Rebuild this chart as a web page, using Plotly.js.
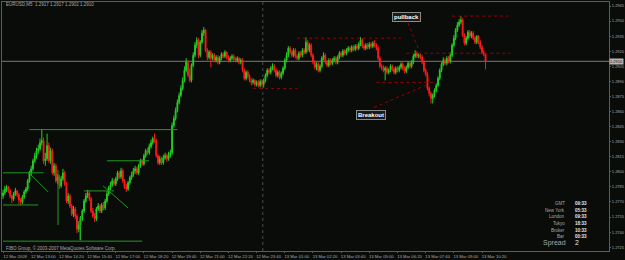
<!DOCTYPE html>
<html><head><meta charset="utf-8">
<script src="https://cdn.plot.ly/plotly-3.0.1.min.js"></script>
<style>html,body{margin:0;padding:0;background:#0a0c0a;}#chart{width:625px;height:260px;}</style>
</head><body><div id="chart"></div>
<script>
// ---- data (EURUSD M5, 12-13 Mar 2009) ----
const symbolTitle = "EURUSD,M5  1.2917 1.2917 1.2902 1.2910";
const copyrightText = "FIBO Group, © 2003-2007 MetaQuotes Software Corp.";
const open = [
1.2776,1.2779,1.2783,1.2785,1.2781,1.2776,1.2773,1.2778,1.2781,1.2777,
1.2772,1.2770,1.2775,1.2780,1.2783,1.2791,1.2799,1.2803,1.2811,1.2816,
1.2821,1.2823,1.2829,1.2831,1.2811,1.2813,1.2826,1.2811,1.2821,1.2799,
1.2806,1.2791,1.2795,1.2786,1.2793,1.2799,1.2788,1.2771,1.2776,1.2766,
1.2758,1.2763,1.2756,1.2743,1.2747,1.2753,1.2761,1.2771,1.2776,1.2779,
1.2773,1.2761,1.2756,1.2753,1.2763,1.2766,1.2761,1.2767,1.2764,1.2771,
1.2778,1.2784,1.2787,1.2791,1.2788,1.2793,1.2799,1.2795,1.2801,1.2791,
1.2785,1.2783,1.2789,1.2794,1.2797,1.2801,1.2803,1.2799,1.2806,1.2811,
1.2808,1.2816,1.2821,1.2819,1.2825,1.2829,1.2833,1.2831,1.2816,1.2809,
1.2813,1.2809,1.2814,1.2816,1.2813,1.2817,1.2819,1.2846,1.2853,1.2861,
1.2869,1.2876,1.2883,1.2891,1.2901,1.2909,1.2896,1.2891,1.2906,1.2916,
1.2926,1.2931,1.2916,1.2929,1.2938,1.2941,1.2921,1.2914,1.2919,1.2913,
1.2916,1.2911,1.2914,1.2909,1.2913,1.2917,1.2915,1.2919,1.2914,1.2911,
1.2913,1.2915,1.2912,1.2911,1.2913,1.2909,1.2911,1.2901,1.2893,1.2899,
1.2895,1.2891,1.2889,1.2891,1.2887,1.2889,1.2886,1.2890,1.2887,1.2891,
1.2896,1.2901,1.2899,1.2903,1.2905,1.2901,1.2896,1.2899,1.2894,1.2898,
1.2903,1.2911,1.2916,1.2923,1.2919,1.2916,1.2921,1.2915,1.2913,1.2918,
1.2916,1.2921,1.2919,1.2929,1.2921,1.2926,1.2916,1.2909,1.2904,1.2907,
1.2901,1.2905,1.2913,1.2916,1.2909,1.2906,1.2911,1.2908,1.2911,1.2913,
1.2909,1.2914,1.2918,1.2916,1.2920,1.2918,1.2921,1.2923,1.2921,1.2924,
1.2922,1.2925,1.2923,1.2927,1.2931,1.2925,1.2923,1.2926,1.2924,1.2927,
1.2925,1.2928,1.2926,1.2923,1.2913,1.2905,1.2904,1.2901,1.2903,1.2899,
1.2901,1.2905,1.2902,1.2899,1.2903,1.2901,1.2904,1.2907,1.2903,1.2900,
1.2904,1.2908,1.2905,1.2909,1.2915,1.2918,1.2915,1.2916,1.2914,1.2909,
1.2901,1.2897,1.2883,1.2878,1.2873,1.2876,1.2881,1.2886,1.2893,1.2901,
1.2907,1.2911,1.2908,1.2913,1.2910,1.2916,1.2926,1.2933,1.2941,1.2946,
1.2949,1.2951,1.2936,1.2928,1.2933,1.2939,1.2935,1.2938,1.2933,1.2929,
1.2935,1.2929,1.2924,1.2919,1.2917];
const high = [
1.2782,1.2786,1.2787,1.2786,1.2783,1.2777,1.2780,1.2784,1.2782,1.2779,
1.2774,1.2777,1.2782,1.2785,1.2793,1.2801,1.2806,1.2813,1.2819,1.2824,
1.2827,1.2833,1.2842,1.2834,1.2819,1.2838,1.2829,1.2824,1.2823,1.2809,
1.2808,1.2798,1.2797,1.2796,1.2803,1.2801,1.2790,1.2779,1.2778,1.2768,
1.2766,1.2765,1.2758,1.2751,1.2756,1.2763,1.2773,1.2779,1.2782,1.2781,
1.2775,1.2764,1.2759,1.2765,1.2769,1.2768,1.2769,1.2770,1.2773,1.2781,
1.2786,1.2790,1.2794,1.2793,1.2795,1.2801,1.2801,1.2804,1.2803,1.2793,
1.2788,1.2791,1.2796,1.2800,1.2804,1.2806,1.2805,1.2808,1.2813,1.2813,
1.2818,1.2823,1.2824,1.2828,1.2832,1.2835,1.2838,1.2833,1.2818,1.2816,
1.2815,1.2817,1.2819,1.2818,1.2820,1.2822,1.2849,1.2856,1.2864,1.2872,
1.2879,1.2886,1.2894,1.2905,1.2913,1.2911,1.2903,1.2908,1.2919,1.2929,
1.2934,1.2933,1.2931,1.2941,1.2944,1.2942,1.2923,1.2921,1.2921,1.2918,
1.2918,1.2916,1.2916,1.2915,1.2919,1.2919,1.2921,1.2920,1.2916,1.2915,
1.2917,1.2917,1.2914,1.2915,1.2914,1.2913,1.2913,1.2903,1.2901,1.2901,
1.2897,1.2893,1.2893,1.2892,1.2891,1.2891,1.2892,1.2892,1.2893,1.2898,
1.2903,1.2903,1.2905,1.2908,1.2907,1.2903,1.2901,1.2901,1.2900,1.2905,
1.2913,1.2919,1.2925,1.2925,1.2921,1.2923,1.2923,1.2917,1.2920,1.2920,
1.2923,1.2923,1.2934,1.2931,1.2928,1.2928,1.2918,1.2911,1.2909,1.2909,
1.2907,1.2915,1.2919,1.2918,1.2911,1.2913,1.2913,1.2913,1.2915,1.2915,
1.2916,1.2920,1.2920,1.2922,1.2922,1.2923,1.2925,1.2925,1.2926,1.2926,
1.2927,1.2927,1.2929,1.2934,1.2933,1.2927,1.2928,1.2928,1.2929,1.2929,
1.2930,1.2931,1.2928,1.2925,1.2915,1.2907,1.2906,1.2905,1.2905,1.2903,
1.2907,1.2907,1.2904,1.2905,1.2905,1.2906,1.2909,1.2909,1.2905,1.2906,
1.2910,1.2910,1.2911,1.2917,1.2921,1.2920,1.2918,1.2918,1.2916,1.2911,
1.2903,1.2899,1.2885,1.2880,1.2878,1.2883,1.2888,1.2895,1.2903,1.2909,
1.2914,1.2913,1.2915,1.2915,1.2919,1.2928,1.2936,1.2943,1.2949,1.2952,
1.2955,1.2953,1.2938,1.2935,1.2941,1.2941,1.2940,1.2940,1.2935,1.2936,
1.2936,1.2931,1.2926,1.2921,1.2917];
const low = [
1.2773,1.2777,1.2780,1.2779,1.2774,1.2769,1.2771,1.2776,1.2775,1.2768,
1.2767,1.2768,1.2773,1.2778,1.2781,1.2789,1.2796,1.2801,1.2809,1.2813,
1.2818,1.2821,1.2826,1.2808,1.2806,1.2811,1.2809,1.2808,1.2797,1.2796,
1.2789,1.2788,1.2783,1.2784,1.2791,1.2786,1.2769,1.2768,1.2764,1.2756,
1.2755,1.2753,1.2739,1.2740,1.2732,1.2751,1.2759,1.2769,1.2774,1.2771,
1.2759,1.2754,1.2750,1.2751,1.2761,1.2759,1.2759,1.2762,1.2762,1.2769,
1.2776,1.2782,1.2785,1.2786,1.2786,1.2791,1.2793,1.2793,1.2789,1.2783,
1.2780,1.2781,1.2787,1.2792,1.2795,1.2798,1.2797,1.2797,1.2804,1.2806,
1.2806,1.2814,1.2817,1.2817,1.2823,1.2827,1.2829,1.2814,1.2807,1.2807,
1.2807,1.2807,1.2812,1.2810,1.2811,1.2814,1.2817,1.2844,1.2851,1.2859,
1.2867,1.2874,1.2881,1.2889,1.2899,1.2894,1.2889,1.2889,1.2904,1.2914,
1.2923,1.2913,1.2914,1.2927,1.2935,1.2919,1.2911,1.2912,1.2904,1.2911,
1.2909,1.2909,1.2907,1.2907,1.2911,1.2913,1.2913,1.2912,1.2909,1.2909,
1.2911,1.2910,1.2909,1.2909,1.2907,1.2907,1.2899,1.2891,1.2891,1.2893,
1.2889,1.2886,1.2887,1.2885,1.2885,1.2884,1.2884,1.2885,1.2884,1.2889,
1.2894,1.2897,1.2897,1.2901,1.2899,1.2894,1.2894,1.2892,1.2892,1.2896,
1.2901,1.2909,1.2914,1.2917,1.2914,1.2914,1.2913,1.2911,1.2911,1.2914,
1.2914,1.2917,1.2917,1.2919,1.2919,1.2914,1.2907,1.2902,1.2901,1.2899,
1.2899,1.2903,1.2911,1.2907,1.2904,1.2904,1.2906,1.2906,1.2909,1.2907,
1.2907,1.2912,1.2914,1.2914,1.2916,1.2916,1.2919,1.2919,1.2919,1.2920,
1.2920,1.2921,1.2921,1.2925,1.2923,1.2921,1.2921,1.2922,1.2922,1.2923,
1.2923,1.2924,1.2921,1.2911,1.2903,1.2901,1.2899,1.2891,1.2897,1.2897,
1.2899,1.2900,1.2897,1.2897,1.2899,1.2899,1.2902,1.2901,1.2898,1.2898,
1.2902,1.2903,1.2903,1.2907,1.2913,1.2913,1.2913,1.2912,1.2907,1.2899,
1.2895,1.2881,1.2875,1.2868,1.2868,1.2874,1.2879,1.2884,1.2891,1.2899,
1.2905,1.2906,1.2906,1.2908,1.2908,1.2914,1.2924,1.2931,1.2939,1.2944,
1.2947,1.2934,1.2926,1.2926,1.2931,1.2933,1.2933,1.2931,1.2927,1.2927,
1.2927,1.2922,1.2917,1.2915,1.2902];
const close = [
1.2779,1.2783,1.2785,1.2781,1.2776,1.2773,1.2778,1.2781,1.2777,1.2772,
1.2770,1.2775,1.2780,1.2783,1.2791,1.2799,1.2803,1.2811,1.2816,1.2821,
1.2823,1.2829,1.2831,1.2811,1.2813,1.2826,1.2811,1.2821,1.2799,1.2806,
1.2791,1.2795,1.2786,1.2793,1.2799,1.2788,1.2771,1.2776,1.2766,1.2758,
1.2763,1.2756,1.2743,1.2747,1.2753,1.2761,1.2771,1.2776,1.2779,1.2773,
1.2761,1.2756,1.2753,1.2763,1.2766,1.2761,1.2767,1.2764,1.2771,1.2778,
1.2784,1.2787,1.2791,1.2788,1.2793,1.2799,1.2795,1.2801,1.2791,1.2785,
1.2783,1.2789,1.2794,1.2797,1.2801,1.2803,1.2799,1.2806,1.2811,1.2808,
1.2816,1.2821,1.2819,1.2825,1.2829,1.2833,1.2831,1.2816,1.2809,1.2813,
1.2809,1.2814,1.2816,1.2813,1.2817,1.2819,1.2846,1.2853,1.2861,1.2869,
1.2876,1.2883,1.2891,1.2901,1.2909,1.2896,1.2891,1.2906,1.2916,1.2926,
1.2931,1.2916,1.2929,1.2938,1.2941,1.2921,1.2914,1.2919,1.2913,1.2916,
1.2911,1.2914,1.2909,1.2913,1.2917,1.2915,1.2919,1.2914,1.2911,1.2913,
1.2915,1.2912,1.2911,1.2913,1.2909,1.2911,1.2901,1.2893,1.2899,1.2895,
1.2891,1.2889,1.2891,1.2887,1.2889,1.2886,1.2890,1.2887,1.2891,1.2896,
1.2901,1.2899,1.2903,1.2905,1.2901,1.2896,1.2899,1.2894,1.2898,1.2903,
1.2911,1.2916,1.2923,1.2919,1.2916,1.2921,1.2915,1.2913,1.2918,1.2916,
1.2921,1.2919,1.2929,1.2921,1.2926,1.2916,1.2909,1.2904,1.2907,1.2901,
1.2905,1.2913,1.2916,1.2909,1.2906,1.2911,1.2908,1.2911,1.2913,1.2909,
1.2914,1.2918,1.2916,1.2920,1.2918,1.2921,1.2923,1.2921,1.2924,1.2922,
1.2925,1.2923,1.2927,1.2931,1.2925,1.2923,1.2926,1.2924,1.2927,1.2925,
1.2928,1.2926,1.2923,1.2913,1.2905,1.2904,1.2901,1.2903,1.2899,1.2901,
1.2905,1.2902,1.2899,1.2903,1.2901,1.2904,1.2907,1.2903,1.2900,1.2904,
1.2908,1.2905,1.2909,1.2915,1.2918,1.2915,1.2916,1.2914,1.2909,1.2901,
1.2897,1.2883,1.2878,1.2873,1.2876,1.2881,1.2886,1.2893,1.2901,1.2907,
1.2911,1.2908,1.2913,1.2910,1.2916,1.2926,1.2933,1.2941,1.2946,1.2949,
1.2951,1.2936,1.2928,1.2933,1.2939,1.2935,1.2938,1.2933,1.2929,1.2935,
1.2929,1.2924,1.2919,1.2917,1.2910];
const timeTickBars = [0,16,32,48,64,80,96,112,128,144,160,176,192,208,224,240,256,272];
const timeTickLabels = ["12 Mar 2009","12 Mar 13:00","12 Mar 14:20","12 Mar 15:40","12 Mar 17:00","12 Mar 18:20","12 Mar 19:40","12 Mar 21:00","12 Mar 22:20","12 Mar 23:40","13 Mar 01:00","13 Mar 02:20","13 Mar 03:40","13 Mar 05:00","13 Mar 06:20","13 Mar 07:40","13 Mar 09:00","13 Mar 10:20"];
const priceTicks = [1.2725,1.2740,1.2755,1.2770,1.2785,1.2800,1.2815,1.2830,1.2845,1.2860,1.2875,1.2890,1.2905,1.2920,1.2935,1.2950,1.2965];
const bidPrice = 1.2910;
const daySeparatorBar = 147.5;
// drawn objects
const greenLevelPrice = [1.2799,1.2767,1.2842,1.2811,1.2781,1.2731];
const greenLevelFrom  = [0,0,15,59,46,0];
const greenLevelTo    = [23,20,99,83,63,79];
const greenSegments = [[14.2,1.2800,25.6,1.2780],[56.8,1.2786,71,1.2764],[31.2,1.2802,31.2,1.2747],[43.7,1.2755,43.7,1.2732]];
const redLevelPrice = [1.2933,1.2883,1.2889,1.2918,1.2955];
const redLevelFrom  = [167,142,212,229,255];
const redLevelTo    = [226,167,246,288,287];
const redSegments = [[230,1.2948,235.7,1.2923],[210.7,1.2864,240,1.2886]];
const labelTexts = ["pullback","Breakout"];
const labelBars = [229,209];
const labelPrices = [1.2954,1.2857];
const clockNames = ["GMT","New York","London","Tokyo","Broker","Bar"];
const clockTimes = ["09:33","05:33","09:33","18:33","10:33","00:33"];
const spreadValue = "2";

// ---- build ----
const bars = open.map((_, i) => i);
const fmt = v => v.toFixed(4);
const GREEN = '#22d022', RED = '#ff1a1a', GRID = '#5c5c5c', TXT = '#a8a8a8';
const FONT = 'Liberation Sans, Arial, sans-serif';
const PX = x => (x - 2) / 607;          // page px -> paper x
const PY = y => 1 - (y - 2) / 249;      // page px -> paper y

const trace = {
  type: 'candlestick', x: bars, open, high, low, close,
  increasing: {line: {color: GREEN, width: 1}, fillcolor: GREEN},
  decreasing: {line: {color: RED, width: 1}, fillcolor: RED},
  whiskerwidth: 0, hoverinfo: 'skip', showlegend: false
};

const shapes = [];
greenLevelPrice.forEach((p, i) => shapes.push({type:'line', xref:'x', yref:'y', x0:greenLevelFrom[i], x1:greenLevelTo[i], y0:p, y1:p, line:{color:'#1f9a1f', width:1}}));
greenSegments.forEach(s => shapes.push({type:'line', xref:'x', yref:'y', x0:s[0], y0:s[1], x1:s[2], y1:s[3], line:{color:'#1f9a1f', width:1}}));
redLevelPrice.forEach((p, i) => shapes.push({type:'line', xref:'x', yref:'y', x0:redLevelFrom[i], x1:redLevelTo[i], y0:p, y1:p, line:{color:'#9a0000', width:1, dash:'dot'}}));
redSegments.forEach(s => shapes.push({type:'line', xref:'x', yref:'y', x0:s[0], y0:s[1], x1:s[2], y1:s[3], line:{color:'#9a0000', width:1, dash:'dot'}}));
shapes.push({type:'line', xref:'paper', yref:'y', x0:0, x1:1, y0:bidPrice, y1:bidPrice, line:{color:'#7a7a7a', width:1}, layer:'below'});
shapes.push({type:'line', xref:'x', yref:'paper', x0:daySeparatorBar, x1:daySeparatorBar, y0:0, y1:1, line:{color:'#4a4a4a', width:1, dash:'dot'}, layer:'below'});

const annotations = [];
annotations.push({xref:'paper', yref:'paper', x:0.003, y:PY(4.5), xanchor:'left', yanchor:'middle', text:symbolTitle, showarrow:false, font:{family:FONT, size:4.5, color:TXT}});
annotations.push({xref:'paper', yref:'paper', x:0.003, y:PY(248), xanchor:'left', yanchor:'middle', text:copyrightText, showarrow:false, font:{family:FONT, size:4.5, color:TXT}});
labelTexts.forEach((t, i) => annotations.push({xref:'x', yref:'y', x:labelBars[i], y:labelPrices[i], text:'<b>'+t+'</b>', showarrow:false, font:{family:FONT, size:6, color:'#ffffff'}, bgcolor:'#1a1a1a', bordercolor:'#8a8a8a', borderwidth:1, borderpad:1}));
clockNames.forEach((n, i) => {
  annotations.push({xref:'paper', yref:'paper', x:PX(567), y:PY(203.3+i*6.7), xanchor:'right', yanchor:'middle', text:n, showarrow:false, font:{family:FONT, size:4.5, color:TXT}});
  annotations.push({xref:'paper', yref:'paper', x:PX(573), y:PY(203.3+i*6.7), xanchor:'left', yanchor:'middle', text:'<b>'+clockTimes[i]+'</b>', showarrow:false, font:{family:FONT, size:4.5, color:'#e8e8e8'}});
});
annotations.push({xref:'paper', yref:'paper', x:PX(568), y:PY(242.5), xanchor:'right', yanchor:'middle', text:'Spread', showarrow:false, font:{family:FONT, size:7, color:TXT}});
annotations.push({xref:'paper', yref:'paper', x:PX(573), y:PY(242.5), xanchor:'left', yanchor:'middle', text:spreadValue, showarrow:false, font:{family:FONT, size:7, color:'#e8e8e8'}});
annotations.push({xref:'paper', yref:'y', x:1, y:bidPrice, xanchor:'left', yanchor:'middle', text:fmt(bidPrice), showarrow:false, font:{family:FONT, size:4, color:'#101010'}, bgcolor:'#b4b4b4', borderpad:0});

const layout = {
  width: 625, height: 260,
  margin: {l:2, r:16, t:2, b:9, pad:0},
  paper_bgcolor: '#0a0c0a', plot_bgcolor: '#0a0c0a',
  showlegend: false,
  xaxis: {range:[-0.6, 344.1], rangeslider:{visible:false}, showgrid:false, zeroline:false,
    tickmode:'array', tickvals:timeTickBars, ticktext:timeTickLabels, ticks:'outside', ticklen:1, tickcolor:GRID,
    tickangle:0, tickfont:{family:FONT, size:4.2, color:TXT}, ticklabelshift:12, ticklabelstandoff:0,
    showline:true, linecolor:GRID, linewidth:1, mirror:true, fixedrange:true},
  yaxis: {side:'right', range:[1.27212, 1.29690], showgrid:false, zeroline:false,
    tickmode:'array', tickvals:priceTicks, ticktext:priceTicks.map(fmt), ticks:'outside', ticklen:1, tickcolor:GRID,
    tickfont:{family:FONT, size:4, color:TXT}, ticklabelstandoff:0, showline:true, linecolor:GRID, linewidth:1, mirror:true, fixedrange:true},
  shapes, annotations
};
Plotly.newPlot('chart', [trace], layout, {staticPlot:true, displayModeBar:false});
</script></body></html>
